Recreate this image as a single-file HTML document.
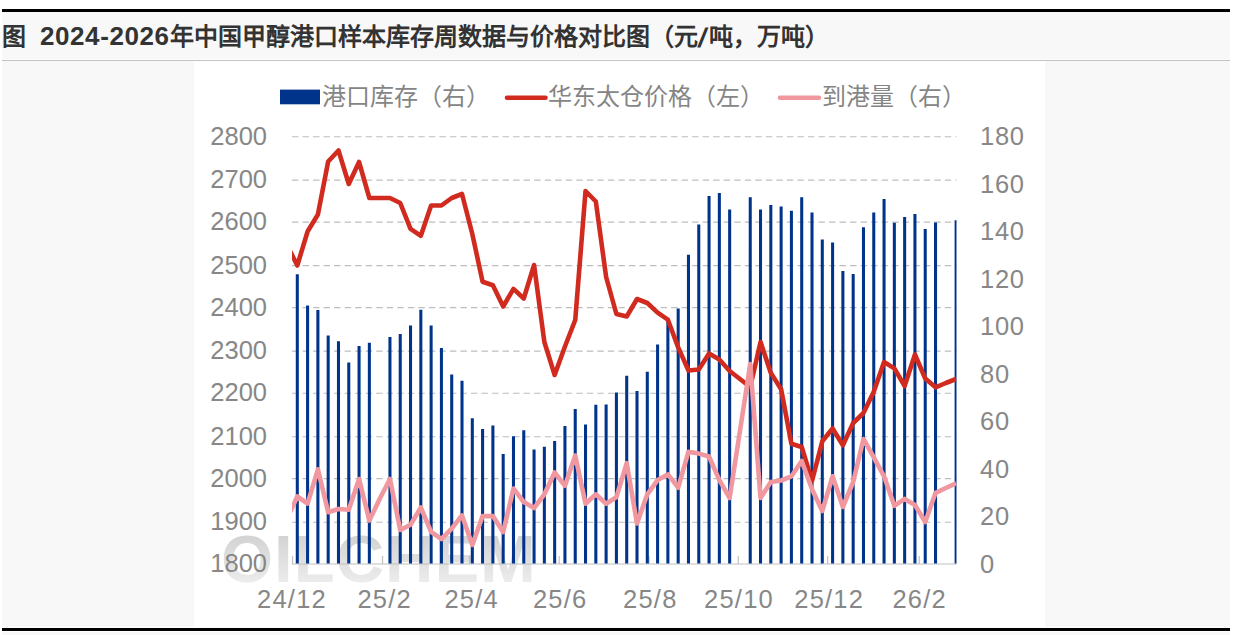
<!DOCTYPE html>
<html lang="zh-CN"><head><meta charset="utf-8"><style>
html,body{margin:0;padding:0;background:#fff;width:1235px;height:635px;overflow:hidden;}
body{position:relative;font-family:"Liberation Sans",sans-serif;}
.abs{position:absolute;}
#bg{left:2px;top:12px;width:1228px;height:615px;background:#f8f8f8;}
#topline{left:2px;top:9px;width:1228px;height:3px;background:#000;}
#botline{left:2px;top:628px;width:1228px;height:3px;background:#000;}
#botbg{left:2px;top:632px;width:1228px;height:3px;background:#f8f8f8;}
#wline{left:2px;top:627px;width:1228px;height:1px;background:#fff;}
#sep{left:2px;top:60px;width:1228px;height:1px;background:#c4c4c4;}
#sepw{left:2px;top:59px;width:1228px;height:1px;background:#fdfdfd;}
#chart{left:194px;top:61px;width:851px;height:566px;background:#fff;}
#title{left:2px;top:20px;font-size:24px;font-weight:bold;color:#333;white-space:nowrap;line-height:32px;}
.d{font-size:26px;letter-spacing:0.6px;}
.sl{font-size:27px;display:inline-block;transform:translate(1px,1.5px) skewX(-12deg);margin-right:3.5px;}
svg{position:absolute;left:0;top:0;}
.ax{font-family:"Liberation Sans",sans-serif;font-size:25.5px;fill:#878787;}
.lg{font-family:"Liberation Sans",sans-serif;font-size:24px;fill:#858585;}
</style></head><body>
<div class="abs" id="bg"></div>
<div class="abs" id="topline"></div>
<div class="abs" id="wline"></div>
<div class="abs" id="botline"></div>
<div class="abs" id="botbg"></div>
<div class="abs" id="sepw"></div>
<div class="abs" id="sep"></div>
<div class="abs" id="chart"></div>
<div class="abs" id="title">图<span style="font-size:25px">&nbsp;&nbsp;</span><span class="d">2024-2026</span>年中国甲醇港口样本库存周数据与价格对比图（元<span class="sl">/</span>吨，万吨）</div>
<svg width="1235" height="635" viewBox="0 0 1235 635">
<defs><clipPath id="pc"><rect x="292.0" y="100" width="664.5" height="470"/></clipPath><linearGradient id="wm" x1="0" y1="0" x2="0" y2="1"><stop offset="0" stop-color="#cbcbcb"/><stop offset="1" stop-color="#f3f3f3"/></linearGradient><filter id="bl" x="-5%" y="-20%" width="110%" height="140%"><feGaussianBlur stdDeviation="0.7"/></filter></defs>
<text x="221" y="582" font-family="Liberation Sans" font-weight="bold" font-size="67" fill="url(#wm)" letter-spacing="1" filter="url(#bl)">OILCHEM</text>
<line x1="292.0" y1="136.7" x2="956.5" y2="136.7" stroke="#bdbdbd" stroke-width="1.1" stroke-dasharray="6.4 4.13"/>
<line x1="292.0" y1="180.1" x2="956.5" y2="180.1" stroke="#bdbdbd" stroke-width="1.1" stroke-dasharray="6.4 4.13"/>
<line x1="292.0" y1="222.1" x2="956.5" y2="222.1" stroke="#bdbdbd" stroke-width="1.1" stroke-dasharray="6.4 4.13"/>
<line x1="292.0" y1="265.6" x2="956.5" y2="265.6" stroke="#bdbdbd" stroke-width="1.1" stroke-dasharray="6.4 4.13"/>
<line x1="292.0" y1="307.6" x2="956.5" y2="307.6" stroke="#bdbdbd" stroke-width="1.1" stroke-dasharray="6.4 4.13"/>
<line x1="292.0" y1="351.1" x2="956.5" y2="351.1" stroke="#bdbdbd" stroke-width="1.1" stroke-dasharray="6.4 4.13"/>
<line x1="292.0" y1="393.2" x2="956.5" y2="393.2" stroke="#bdbdbd" stroke-width="1.1" stroke-dasharray="6.4 4.13"/>
<line x1="292.0" y1="436.7" x2="956.5" y2="436.7" stroke="#bdbdbd" stroke-width="1.1" stroke-dasharray="6.4 4.13"/>
<line x1="292.0" y1="478.6" x2="956.5" y2="478.6" stroke="#bdbdbd" stroke-width="1.1" stroke-dasharray="6.4 4.13"/>
<line x1="292.0" y1="522.2" x2="956.5" y2="522.2" stroke="#bdbdbd" stroke-width="1.1" stroke-dasharray="6.4 4.13"/>
<line x1="292.0" y1="564.0" x2="956.5" y2="564.0" stroke="#c0c0c0" stroke-width="1.2"/>
<line x1="292.5" y1="556" x2="292.5" y2="564.0" stroke="#c0c0c0" stroke-width="1.2"/>
<line x1="382.5" y1="556" x2="382.5" y2="564.0" stroke="#c0c0c0" stroke-width="1.2"/>
<line x1="469.5" y1="556" x2="469.5" y2="564.0" stroke="#c0c0c0" stroke-width="1.2"/>
<line x1="559.2" y1="556" x2="559.2" y2="564.0" stroke="#c0c0c0" stroke-width="1.2"/>
<line x1="649.0" y1="556" x2="649.0" y2="564.0" stroke="#c0c0c0" stroke-width="1.2"/>
<line x1="738.2" y1="556" x2="738.2" y2="564.0" stroke="#c0c0c0" stroke-width="1.2"/>
<line x1="827.7" y1="556" x2="827.7" y2="564.0" stroke="#c0c0c0" stroke-width="1.2"/>
<line x1="919.3" y1="556" x2="919.3" y2="564.0" stroke="#c0c0c0" stroke-width="1.2"/>
<g clip-path="url(#pc)"><path d="M297.30 274.2V563.6M307.59 305.4V563.6M317.89 310.1V563.6M328.18 335.6V563.6M338.48 341.3V563.6M348.77 362.5V563.6M359.06 346.0V563.6M369.36 342.8V563.6M389.95 337.0V563.6M400.24 334.1V563.6M410.53 325.4V563.6M420.83 309.8V563.6M431.12 325.4V563.6M441.42 348.1V563.6M451.71 374.5V563.6M462.00 380.7V563.6M472.30 418.2V563.6M482.59 428.9V563.6M492.89 425.5V563.6M503.18 454.1V563.6M513.47 436.2V563.6M523.77 430.2V563.6M534.06 449.6V563.6M544.36 446.8V563.6M554.65 440.9V563.6M564.94 426.0V563.6M575.24 409.1V563.6M585.53 424.4V563.6M595.83 404.7V563.6M606.12 404.5V563.6M616.41 392.5V563.6M626.71 375.7V563.6M637.00 390.9V563.6M647.30 371.7V563.6M657.59 344.4V563.6M667.88 320.0V563.6M678.18 308.5V563.6M688.47 254.7V563.6M698.77 224.4V563.6M709.06 196.1V563.6M719.35 193.0V563.6M729.65 209.5V563.6M750.24 197.2V563.6M760.53 209.5V563.6M770.82 205.0V563.6M781.12 206.5V563.6M791.41 210.8V563.6M801.71 197.3V563.6M812.00 212.4V563.6M822.29 239.4V563.6M832.59 242.4V563.6M842.88 270.9V563.6M853.18 274.1V563.6M863.47 227.3V563.6M873.76 212.5V563.6M884.06 198.9V563.6M894.35 222.8V563.6M904.65 217.0V563.6M914.94 213.9V563.6M925.23 229.1V563.6M935.53 222.5V563.6M956.12 220.2V563.6" stroke="#00348a" stroke-width="3.05" fill="none"/></g>
<g clip-path="url(#pc)"><polyline points="287.01,245.0 297.30,265.5 307.59,231.5 317.89,214.5 328.18,161.5 338.48,150.5 348.77,184.0 359.06,162.0 369.36,198.0 379.65,198.0 389.95,198.0 400.24,203.0 410.53,228.8 420.83,235.8 431.12,205.5 441.42,205.5 451.71,198.0 462.00,194.0 472.30,234.0 482.59,281.7 492.89,285.2 503.18,306.5 513.47,288.9 523.77,298.5 534.06,265.0 544.36,342.0 554.65,375.0 564.94,346.5 575.24,320.0 585.53,191.0 595.83,201.5 606.12,277.0 616.41,314.0 626.71,316.5 637.00,299.0 647.30,303.0 657.59,312.7 667.88,319.7 678.18,347.4 688.47,370.5 698.77,369.5 709.06,353.5 719.35,359.5 729.65,371.0 750.24,387.0 760.53,342.0 770.82,372.9 781.12,389.3 791.41,443.8 801.71,447.0 812.00,481.0 822.29,441.3 832.59,428.5 842.88,445.3 853.18,423.0 863.47,413.0 873.76,391.7 884.06,362.0 894.35,368.4 904.65,386.0 914.94,354.5 925.23,378.5 935.53,387.3 945.82,383.0 956.12,379.0" fill="none" stroke="#d12b20" stroke-width="4.6" stroke-linejoin="round"/>
<polyline points="287.01,519.0 297.30,496.5 307.59,503.5 317.89,469.3 328.18,512.2 338.48,509.0 348.77,509.8 359.06,479.0 369.36,520.6 379.65,499.0 389.95,479.0 400.24,530.0 410.53,524.8 420.83,507.5 431.12,531.9 441.42,539.0 451.71,528.7 462.00,515.4 472.30,545.0 482.59,516.1 492.89,516.1 503.18,532.0 513.47,488.6 523.77,502.0 534.06,508.0 544.36,494.3 554.65,472.5 564.94,485.8 575.24,455.5 585.53,503.7 595.83,494.3 606.12,503.7 616.41,497.1 626.71,463.1 637.00,523.5 647.30,494.3 657.59,480.1 667.88,474.4 678.18,487.7 688.47,451.7 698.77,453.6 709.06,456.5 719.35,480.1 729.65,498.0 750.24,364.0 760.53,498.0 770.82,482.1 781.12,480.5 791.41,476.3 801.71,461.0 812.00,489.3 822.29,511.0 832.59,476.3 842.88,507.0 853.18,482.0 863.47,439.0 873.76,457.3 884.06,476.3 894.35,505.8 904.65,498.9 914.94,504.9 925.23,522.0 935.53,492.8 945.82,488.0 956.12,483.3" fill="none" stroke="#f0979f" stroke-width="4.6" stroke-linejoin="round"/></g>
<text x="267" y="144.7" text-anchor="end" class="ax">2800</text>
<text x="267" y="188.1" text-anchor="end" class="ax">2700</text>
<text x="267" y="230.1" text-anchor="end" class="ax">2600</text>
<text x="267" y="273.6" text-anchor="end" class="ax">2500</text>
<text x="267" y="315.6" text-anchor="end" class="ax">2400</text>
<text x="267" y="359.1" text-anchor="end" class="ax">2300</text>
<text x="267" y="401.2" text-anchor="end" class="ax">2200</text>
<text x="267" y="444.7" text-anchor="end" class="ax">2100</text>
<text x="267" y="486.6" text-anchor="end" class="ax">2000</text>
<text x="267" y="530.2" text-anchor="end" class="ax">1900</text>
<text x="267" y="572.2" text-anchor="end" class="ax">1800</text>
<text x="980" y="145.1" class="ax" letter-spacing="0.7">180</text>
<text x="980" y="192.6" class="ax" letter-spacing="0.7">160</text>
<text x="980" y="240.1" class="ax" letter-spacing="0.7">140</text>
<text x="980" y="287.6" class="ax" letter-spacing="0.7">120</text>
<text x="980" y="335.1" class="ax" letter-spacing="0.7">100</text>
<text x="980" y="382.6" class="ax" letter-spacing="0.7">80</text>
<text x="980" y="430.1" class="ax" letter-spacing="0.7">60</text>
<text x="980" y="477.6" class="ax" letter-spacing="0.7">40</text>
<text x="980" y="525.1" class="ax" letter-spacing="0.7">20</text>
<text x="980" y="572.6" class="ax" letter-spacing="0.7">0</text>
<text x="292.0" y="607.5" text-anchor="middle" class="ax" letter-spacing="1.2">24/12</text>
<text x="384.6" y="607.5" text-anchor="middle" class="ax" letter-spacing="1.2">25/2</text>
<text x="471.6" y="607.5" text-anchor="middle" class="ax" letter-spacing="1.2">25/4</text>
<text x="560.2" y="607.5" text-anchor="middle" class="ax" letter-spacing="1.2">25/6</text>
<text x="650.3" y="607.5" text-anchor="middle" class="ax" letter-spacing="1.2">25/8</text>
<text x="739.0" y="607.5" text-anchor="middle" class="ax" letter-spacing="1.2">25/10</text>
<text x="829.2" y="607.5" text-anchor="middle" class="ax" letter-spacing="1.2">25/12</text>
<text x="919.6" y="607.5" text-anchor="middle" class="ax" letter-spacing="1.2">26/2</text>
<rect x="280" y="89.6" width="40" height="14.7" fill="#00348a"/>
<text x="322" y="105" class="lg">港口库存（右）</text>
<line x1="507" y1="97.8" x2="545.5" y2="97.8" stroke="#d12b20" stroke-width="4.6" stroke-linecap="round"/>
<text x="548" y="105" class="lg">华东太仓价格（左）</text>
<line x1="780" y1="97.8" x2="819" y2="97.8" stroke="#f0979f" stroke-width="4.6" stroke-linecap="round"/>
<text x="822" y="105" class="lg">到港量（右）</text>
</svg>
</body></html>
